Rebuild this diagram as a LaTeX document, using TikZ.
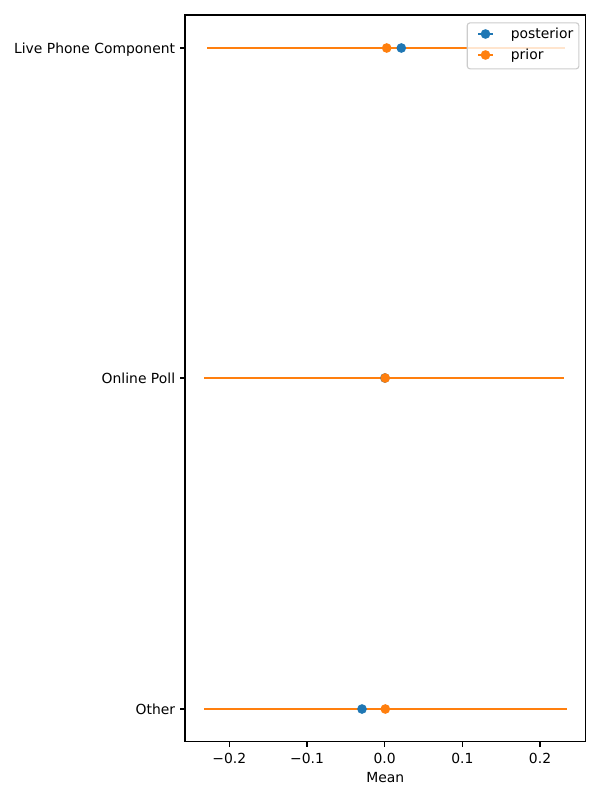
\documentclass[tikz,border=0pt]{standalone}
\usepackage{fontspec}
\setmainfont{DejaVu Sans}
\definecolor{tabblue}{HTML}{1F77B4}
\definecolor{taborange}{HTML}{FF7F0E}
\definecolor{legedge}{HTML}{CCCCCC}
\begin{document}
\begin{tikzpicture}[x=1bp,y=-1bp,
  lbl/.style={inner sep=0pt,font=\fontsize{13.9bp}{16bp}\selectfont},
  errline/.style={draw=taborange,line width=2.08bp},
  dotb/.style={fill=tabblue},
  doto/.style={fill=taborange},
  axisline/.style={line width=1.11bp,draw=black},
  tick/.style={line width=1.11bp,draw=black}]
\useasboundingbox (0,0) rectangle (600,800);
% error bars
\draw[errline] (207.3,48) -- (565,48);
\draw[errline] (204,378) -- (564,378);
\draw[errline] (204,709) -- (566.7,709);
% posterior markers
\fill[dotb] (401.3,48) circle (4.85);
\fill[dotb] (384.9,378) circle (4.85);
\fill[dotb] (362,709) circle (4.85);
% prior markers
\fill[doto] (386.7,48) circle (4.85);
\fill[doto] (385.2,378) circle (4.85);
\fill[doto] (385.3,709) circle (4.85);
% axes frame
\draw[axisline] (185,15) rectangle (585.7,741.7);
% y ticks
\foreach \yy/\tx in {48/Live Phone Component,378/Online Poll,709/Other}{
  \draw[tick] (185,\yy) -- (180.1,\yy);
  \node[lbl,anchor=base east] at (175.3,\yy+5.1) {\tx};
}
% x ticks
\foreach \xv/\tx in {-0.2/−0.2,-0.1/−0.1,0/0.0,0.1/0.1,0.2/0.2}{
  \pgfmathsetmacro{\px}{384.7+776.7*\xv}
  \draw[tick] (\px,741.7) -- (\px,746.6);
  \node[lbl,anchor=base] at (\px,763.3) {\tx};
}
\node[lbl,anchor=base] (xlab) at (385.3,782.5) {Mean};
% legend
\node[draw=legedge,fill=white,fill opacity=0.8,draw opacity=1,rounded corners=2.8bp,line width=1.11bp,
  minimum width=111.6bp,minimum height=46bp,inner sep=0pt,anchor=north west] (leg) at (466.7,22.3) {};
\draw[draw=tabblue,line width=2.08bp] (478,34) -- (493,34);
\fill[dotb] (485.5,34) circle (4.85);
\draw[draw=taborange,line width=2.08bp] (478,55) -- (493,55);
\fill[doto] (485.5,55) circle (4.85);
\node[lbl,anchor=base west] (lpost) at (510.7,38.3) {posterior};
\node[lbl,anchor=base west] (lprior) at (510.7,59.3) {prior};
\end{tikzpicture}
\end{document}
